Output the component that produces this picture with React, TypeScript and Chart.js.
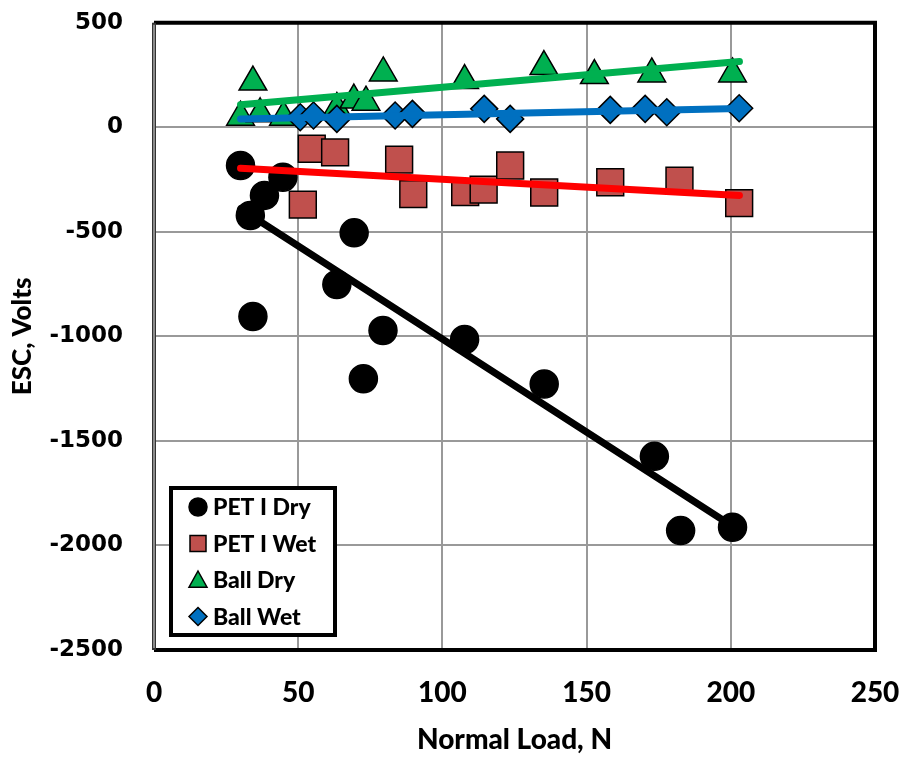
import React, { useEffect, useRef } from "react";
import { Chart, registerables } from "chart.js";

Chart.register(...registerables);

// ---- data ----
const xTickStep = 50;
const xMin = 0;
const xMax = 250;
const yMin = -2500;
const yMax = 500;
const yTickStep = 500;

const xTitle = "Normal Load, N";
const yTitle = "ESC, Volts";

const seriesNames = ["PET I Dry", "PET I Wet", "Ball Dry", "Ball Wet"];

const petDryLoad = [30, 44.7, 38.3, 33.4, 34.3, 69.4, 63.4, 79.4, 72.6, 107.7, 135.3, 173.5, 182.6, 200.6];
const petDryEsc = [-183, -239, -326, -422, -905, -505, -752, -972, -1203, -1015, -1228, -1574, -1929, -1913];

const petWetLoad = [54.7, 62.8, 51.6, 85, 89.9, 107.9, 114.3, 123.5, 135.3, 158.2, 182.2, 202.9];
const petWetEsc = [-103, -120, -370, -155, -320, -310, -298, -183, -312, -263, -255, -363];

const ballDryLoad = [30, 34.3, 36.8, 44.9, 63.4, 69.3, 73.5, 79.5, 107.7, 135.2, 152.7, 172.6, 200.6];
const ballDryEsc = [48, 216, 64, 48, 90, 130, 120, 260, 223, 290, 247, 255, 255];

const ballWetLoad = [50.7, 55.3, 63.4, 83.6, 89.6, 114.5, 123.5, 158.2, 170.3, 177.8, 202.9];
const ballWetEsc = [48, 56, 40, 56, 64, 88, 40, 83, 88, 72, 91];

// trend line end points
const petDryTrendLoad = [30, 201];
const petDryTrendEsc = [-390, -1912];
const petWetTrendLoad = [30, 203];
const petWetTrendEsc = [-196, -326];
const ballDryTrendLoad = [30, 203];
const ballDryTrendEsc = [108, 314];
const ballWetTrendLoad = [30, 203];
const ballWetTrendEsc = [40, 90];

const HUMAN = "Lato, 'Open Sans', 'Liberation Sans', sans-serif";
const WIDE = "'DejaVu Sans', Verdana, sans-serif";
const HEAVY = "900";

const toPts = (xs: number[], ys: number[]) => xs.map((x, i) => ({ x, y: ys[i] }));

function drawMarker(ctx: CanvasRenderingContext2D, style: string, x: number, y: number, r: number, fill: string) {
  ctx.save();
  ctx.fillStyle = fill;
  ctx.strokeStyle = "#000";
  ctx.lineWidth = 1.5;
  ctx.beginPath();
  if (style === "circle") {
    ctx.arc(x, y, r, 0, Math.PI * 2);
  } else if (style === "rect") {
    ctx.rect(x - r, y - r, 2 * r, 2 * r);
  } else if (style === "triangle") {
    ctx.moveTo(x, y - r);
    ctx.lineTo(x + r, y + r * 0.8);
    ctx.lineTo(x - r, y + r * 0.8);
    ctx.closePath();
  } else {
    ctx.moveTo(x, y - r);
    ctx.lineTo(x + r, y);
    ctx.lineTo(x, y + r);
    ctx.lineTo(x - r, y);
    ctx.closePath();
  }
  ctx.fill();
  ctx.stroke();
  ctx.restore();
}

const framePlugin = {
  id: "frame",
  beforeDatasetsDraw(chart: any) {
    const { ctx, chartArea } = chart;
    const { left, right, top, bottom } = chartArea;
    ctx.save();
    ctx.strokeStyle = "#000";
    ctx.lineWidth = 4;
    ctx.beginPath();
    ctx.moveTo(left, top);
    ctx.lineTo(right, top);
    ctx.lineTo(right, bottom);
    ctx.lineTo(left, bottom);
    ctx.stroke();
    ctx.strokeStyle = "#333";
    ctx.lineWidth = 4;
    ctx.beginPath();
    ctx.moveTo(left, top);
    ctx.lineTo(left, bottom);
    ctx.stroke();
    ctx.strokeStyle = "#aaa";
    ctx.lineWidth = 1.5;
    ctx.beginPath();
    ctx.moveTo(left, top + 2);
    ctx.lineTo(left, bottom - 2);
    ctx.stroke();
    ctx.restore();
  },
};

const legendPlugin = {
  id: "boxLegend",
  afterDraw(chart: any) {
    const { ctx, chartArea } = chart;
    const bx = chartArea.left + 17;
    const by = chartArea.bottom - 162;
    const bw = 164;
    const bh = 147;
    ctx.save();
    ctx.fillStyle = "#fff";
    ctx.fillRect(bx, by, bw, bh);
    ctx.strokeStyle = "#000";
    ctx.lineWidth = 4;
    ctx.strokeRect(bx, by, bw, bh);
    const items = chart.data.datasets.filter((d: any) => d.inLegend);
    items.forEach((d: any, i: number) => {
      const cy = by + 19 + i * 36.5;
      const r = d.pointStyle === "rect" ? 8 : 9;
      drawMarker(ctx, d.pointStyle, bx + 27, cy, r, d.backgroundColor);
      ctx.fillStyle = "#000";
      ctx.font = `${HEAVY} 23px ${HUMAN}`;
      ctx.textBaseline = "middle";
      ctx.textAlign = "left";
      ctx.fillText(d.label, bx + 42, cy + 1);
    });
    ctx.restore();
  },
};

export default function App() {
  const canvasRef = useRef<HTMLCanvasElement | null>(null);

  useEffect(() => {
    if (!canvasRef.current) return;
    const markerBase = {
      type: "scatter" as const,
      showLine: false,
      borderColor: "#000",
      pointBorderColor: "#000",
      pointBorderWidth: 1.5,
      inLegend: true,
    };
    const trendBase = {
      type: "line" as const,
      showLine: true,
      pointRadius: 0,
      borderWidth: 7,
      borderCapStyle: "round" as const,
      fill: false,
      order: 0,
      inLegend: false,
    };
    const chart = new Chart(canvasRef.current, {
      type: "scatter",
      data: {
        datasets: [
          {
            ...markerBase,
            label: seriesNames[0],
            data: toPts(petDryLoad, petDryEsc),
            pointStyle: "circle",
            pointRadius: 14,
            backgroundColor: "#000000",
            pointBackgroundColor: "#000000",
            order: 4,
          } as any,
          {
            ...markerBase,
            label: seriesNames[1],
            data: toPts(petWetLoad, petWetEsc),
            pointStyle: "rect",
            pointRadius: 19,
            backgroundColor: "#C0504D",
            pointBackgroundColor: "#C0504D",
            order: 3,
          } as any,
          {
            ...markerBase,
            label: seriesNames[2],
            data: toPts(ballDryLoad, ballDryEsc),
            pointStyle: "triangle",
            pointRadius: 16,
            backgroundColor: "#00B050",
            pointBackgroundColor: "#00B050",
            order: 2,
          } as any,
          {
            ...markerBase,
            label: seriesNames[3],
            data: toPts(ballWetLoad, ballWetEsc),
            pointStyle: "rectRot",
            pointRadius: 13.5,
            backgroundColor: "#0070C0",
            pointBackgroundColor: "#0070C0",
            order: 1,
          } as any,
          { ...trendBase, label: "", data: toPts(ballWetTrendLoad, ballWetTrendEsc), borderColor: "#0070C0" } as any,
          { ...trendBase, label: "", data: toPts(ballDryTrendLoad, ballDryTrendEsc), borderColor: "#00B050" } as any,
          { ...trendBase, label: "", data: toPts(petWetTrendLoad, petWetTrendEsc), borderColor: "#FF0000" } as any,
          { ...trendBase, label: "", data: toPts(petDryTrendLoad, petDryTrendEsc), borderColor: "#000000" } as any,
        ],
      },
      options: {
        animation: false,
        responsive: true,
        maintainAspectRatio: false,
        layout: { padding: { top: 22.7, right: 30, left: 0, bottom: 0 } },
        plugins: {
          legend: { display: false },
          tooltip: { enabled: false },
        },
        scales: {
          x: {
            type: "linear",
            min: xMin,
            max: xMax,
            ticks: {
              stepSize: xTickStep,
              padding: 26,
              color: "#000",
              font: { family: HUMAN, size: 28, weight: HEAVY },
              callback: (v: any) => String(v),
            },
            grid: { color: "#999", lineWidth: 2, drawTicks: false },
            border: { display: false },
            title: {
              display: true,
              text: xTitle,
              color: "#000",
              font: { family: HUMAN, size: 28, weight: HEAVY },
              padding: { top: 0, bottom: 2 },
            },
            afterFit: (scale: any) => {
              scale.height = 109;
              scale.paddingLeft = 0;
              scale.paddingRight = 0;
            },
          },
          y: {
            type: "linear",
            min: yMin,
            max: yMax,
            ticks: {
              stepSize: yTickStep,
              padding: 31,
              color: "#000",
              font: { family: WIDE, size: 23, weight: "bold" },
              callback: (v: any) => String(v),
            },
            grid: { color: "#999", lineWidth: 2, drawTicks: false },
            border: { display: false },
            title: {
              display: true,
              text: yTitle,
              color: "#000",
              font: { family: HUMAN, size: 26, weight: HEAVY },
              padding: { top: 7, bottom: 0 },
            },
            afterFit: (scale: any) => {
              scale.width = 154;
              scale.paddingTop = 0;
              scale.paddingBottom = 0;
            },
          },
        },
      } as any,
      plugins: [framePlugin, legendPlugin],
    });
    return () => chart.destroy();
  }, []);

  return (
    <div style={{ position: "fixed", left: 0, top: 0, width: 905, height: 759, background: "#fff" }}>
      <canvas ref={canvasRef} />
    </div>
  );
}
